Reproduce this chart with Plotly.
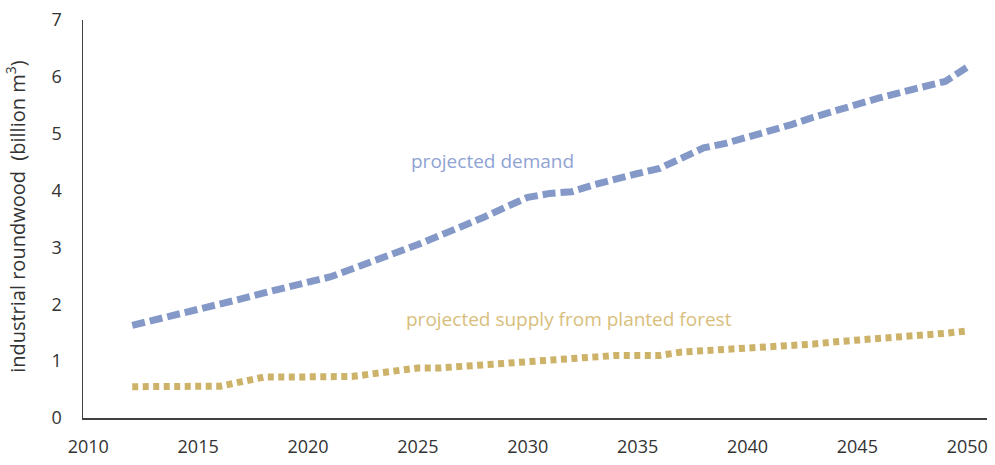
import plotly.graph_objects as go

years = [2012, 2013, 2014, 2015, 2016, 2017, 2018, 2019, 2020, 2021,
         2022, 2023, 2024, 2025, 2026, 2027, 2028, 2029, 2030, 2031,
         2032, 2033, 2034, 2035, 2036, 2037, 2038, 2039, 2040, 2041,
         2042, 2043, 2044, 2045, 2046, 2047, 2048, 2049, 2050]

demand = [1.63, 1.72, 1.80, 1.90, 1.98, 2.10, 2.20, 2.31, 2.39, 2.48,
          2.62, 2.74, 2.88, 3.05, 3.21, 3.36, 3.53, 3.71, 3.88, 3.95,
          3.98, 4.10, 4.21, 4.30, 4.39, 4.57, 4.75, 4.83, 4.93, 5.04,
          5.16, 5.29, 5.41, 5.52, 5.63, 5.73, 5.82, 5.92, 6.17]

supply = [0.55, 0.55, 0.55, 0.55, 0.56, 0.64, 0.72, 0.72, 0.72, 0.72,
          0.73, 0.78, 0.82, 0.88, 0.88, 0.91, 0.93, 0.95, 0.97, 1.01,
          1.04, 1.07, 1.10, 1.10, 1.10, 1.16, 1.18, 1.20, 1.24, 1.27,
          1.29, 1.30, 1.34, 1.37, 1.37, 1.42, 1.46, 1.49, 1.53]

x_ticks = [2010, 2015, 2020, 2025, 2030, 2035, 2040, 2045, 2050]
y_ticks = [0, 1, 2, 3, 4, 5, 6, 7]

FONT = "Open Sans"
BLUE = "#8499C8"
GOLD = "#CDB26A"

fig = go.Figure()
fig.add_trace(go.Scatter(x=years, y=demand, mode="lines",
                         line=dict(color=BLUE, width=7, dash="13px,5px"),
                         hoverinfo="skip", showlegend=False))
fig.add_trace(go.Scatter(x=years, y=supply, mode="lines",
                         line=dict(color=GOLD, width=7, dash="6px,4.5px"),
                         hoverinfo="skip", showlegend=False))

fig.add_annotation(x=2028.4, y=4.52, text="projected demand", showarrow=False,
                   font=dict(family=FONT, size=19, color="#8FA3D3"),
                   xanchor="center", yanchor="middle")
fig.add_annotation(x=2031.87, y=1.74, text="projected supply from planted forest",
                   showarrow=False,
                   font=dict(family=FONT, size=19, color="#D8BE7C"),
                   xanchor="center", yanchor="middle")
fig.add_annotation(xref="paper", yref="paper", x=-0.0745, y=0.507,
                   text="industrial roundwood\u00a0 (billion m<sup>3</sup>)",
                   textangle=-90, showarrow=False,
                   font=dict(family=FONT, size=20, color="#333333"),
                   xanchor="center", yanchor="middle")

fig.update_layout(
    width=995, height=465,
    margin=dict(l=83, r=7, t=17, b=44, pad=0),
    paper_bgcolor="white", plot_bgcolor="white",
    font=dict(family=FONT, size=18, color="#333333"),
    xaxis=dict(range=[2009.76, 2050.90], tickvals=x_ticks,
               ticktext=[str(t) for t in x_ticks],
               showgrid=False, zeroline=False, showline=True,
               linecolor="#404040", linewidth=1.5, ticks="",
               ticklabelstandoff=12, tickfont=dict(size=18)),
    yaxis=dict(range=[0, 7], tickvals=y_ticks,
               showgrid=False, zeroline=False, showline=True,
               linecolor="#404040", linewidth=1.5, ticks="",
               ticklabelstandoff=16, tickfont=dict(size=18)),
)

fig.write_html("out.html",
               config={"displayModeBar": False, "staticPlot": True},
               post_script="document.body.style.margin='0';"
                           "document.body.style.overflow='hidden';")
